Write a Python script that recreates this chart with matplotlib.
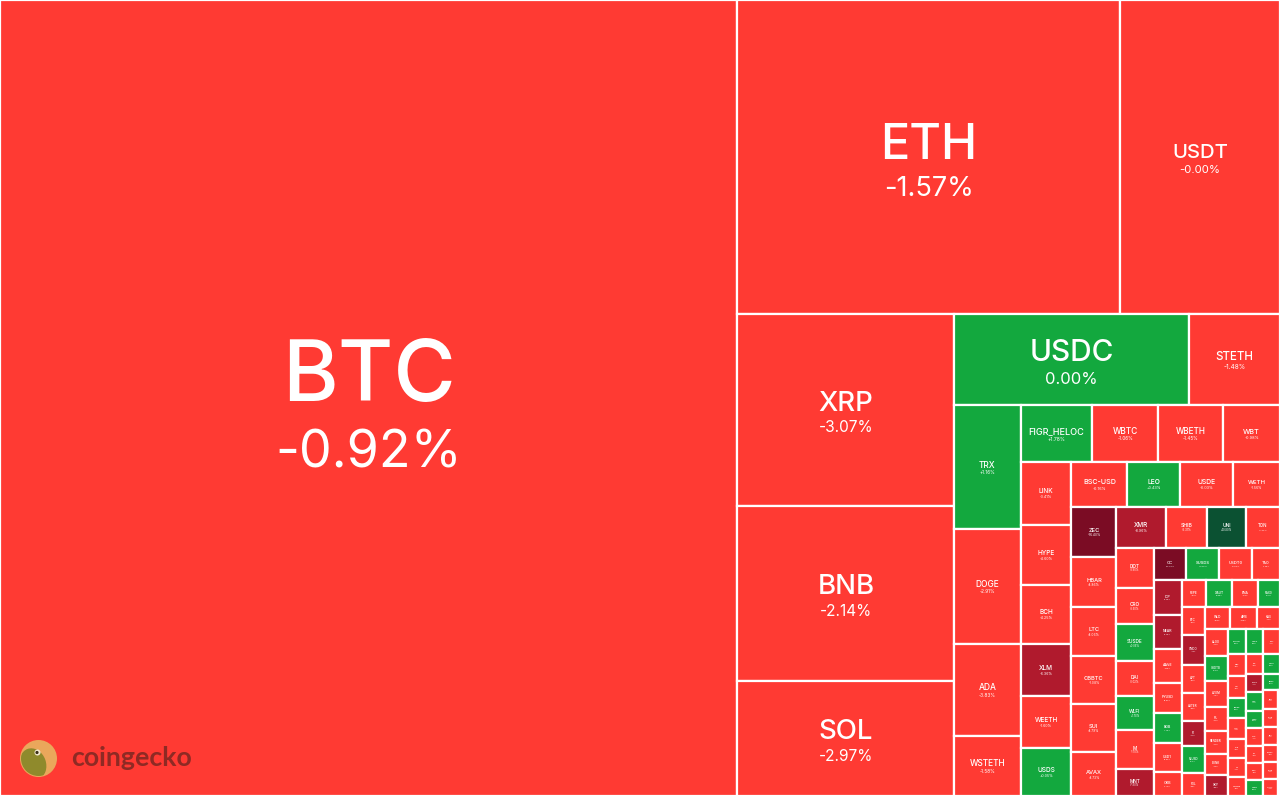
import matplotlib
matplotlib.use('Agg')
import matplotlib.pyplot as plt
from matplotlib.patches import Rectangle, Circle, Ellipse

# 数据：市值（相对大小）与24小时涨跌幅
symbols = [
    'BTC', 'ETH', 'USDT', 'XRP', 'BNB', 'SOL', 'USDC', 'STETH',
    'TRX', 'DOGE', 'ADA', 'WSTETH',
    'FIGR_HELOC', 'WBTC', 'WBETH', 'WBT',
    'LINK', 'HYPE', 'BCH', 'XLM', 'WEETH', 'USDS',
    'BSC-USD', 'LEO', 'USDE', 'WETH',
    'ZEC', 'HBAR', 'LTC', 'CBBTC', 'SUI', 'AVAX',
    'XMR', 'SHIB', 'UNI', 'TON',
    'DOT', 'CRO', 'SUSDE', 'DAI', 'WLFI', 'M', 'MNT',
    'CC', 'SUSDS', 'USDT0', 'TAO',
    'ICP', 'NEAR', 'AAVE', 'PYUSD', 'BGB', 'USD1', 'OKB',
    'PEPE', 'XAUT', 'ENA', 'PAXG',
    'ETC', 'ONDO', 'APT', 'ASTER', 'PI', 'RLUSD', 'POL',
    'WLD', 'ARB', 'KAS',
    'ALGO', 'USDTB', 'ATOM', 'FIL', 'RENDER', 'BONK', 'SKY',
    'FDUSD', 'USDG', 'QNT', 'VET', 'SEI', 'BUIDL', 'JUP', 'FLR', 'IP',
    'TRUMP', 'INJ', 'USYC', 'CAKE', 'XDC', 'USDF', 'STX', 'OP', 'CRV',
    'USD0', 'EURC', 'LDO', 'NEXO', 'ENS', 'PENGU', 'SAND', 'THETA', 'AERO',
]
market_cap = [
    586652, 120262, 50240, 41664, 37975, 24955, 21385, 8281,
    8184, 7590, 6072, 3960,
    4032, 3696, 3640, 3192,
    3213, 3060, 3009, 2652, 2652, 2448,
    2520, 2385, 2385, 2115,
    2250, 2250, 2205, 2160, 2160, 1980,
    2050, 1681, 1599, 1394,
    1480, 1370, 1370, 1300, 1260, 1450, 1000,
    1056, 1056, 1056, 896,
    980, 952, 952, 840, 840, 812, 672,
    675, 702, 702, 594,
    644, 690, 644, 644, 575, 621, 529,
    572, 594, 506,
    621, 575, 575, 552, 529, 483, 483,
    456, 444, 420, 405, 392, 380, 370, 360, 352,
    344, 336, 328, 320, 313, 306, 300, 294, 288,
    282, 276, 270, 265, 260, 255, 250, 245, 240,
]
change_24h = [
    -0.92, -1.57, -0.001, -3.07, -2.14, -2.97, 0.001, -1.48,
    1.16, -2.91, -3.83, -1.58,
    1.78, -1.06, -1.45, -0.98,
    -3.41, -4.60, -4.25, -6.36, -1.60, 0.05,
    -0.16, 0.43, -0.03, -1.56,
    -16.40, -4.86, -4.06, -1.08, -4.79, -4.73,
    -8.96, -3.31, 10.80, -3.42,
    -3.90, -3.50, 0.06, -0.02, 1.78, -1.10, -7.80,
    -12.40, 0.08, -0.03, -3.90,
    -9.50, -8.20, -4.40, -0.02, 1.20, -0.04, -3.10,
    -4.90, 0.60, -4.20, 0.50,
    -3.60, -7.10, -3.90, -4.40, -6.50, 0.01, -4.10,
    -4.80, -4.40, -3.20,
    -4.50, 0.02, -3.70, -4.60, -4.90, -4.00, -7.40,
    0.02, 0.01, -2.70, -4.00, -4.80, 0.01, -3.30, -3.90, -4.20,
    -4.50, -3.80, 0.01, -7.20, 1.30, 0.02, -4.10, -3.60, -4.40,
    0.03, 0.10, -4.70, -3.20, -4.10, -4.60, -3.70, -4.20, -3.40,
]

W, H = 1280, 796


def tile_color(c):
    if c >= 5:
        return '#0b5132'
    if c >= 0:
        return '#13a83e'
    if c > -5.5:
        return '#ff3a33'
    if c > -10:
        return '#b01a2d'
    return '#7b0c24'


class RowGroup:
    # 交替方向的 squarified 布局（每行之后换方向）
    def __init__(self, h, w):
        self.height, self.width = h, w
        self.direction = 0
        self.total = 0.0
        self.nW = self.lW = self.nH = self.lH = 0.0
        self.items = []
        self.lR = self.nR = None

    def add(self, a):
        prev = self.items[-1] if self.items else None
        self.total += a
        ratio = lambda p, q: max(p / q, q / p)
        if self.direction == 0:
            self.lW = self.nW
            self.nW = self.total / self.height
            if prev is not None:
                self.lR = ratio(self.lW, prev / self.lW)
                self.nR = ratio(self.nW, prev / self.nW)
        else:
            self.lH = self.nH
            self.nH = self.total / self.width
            if prev is not None:
                self.lR = ratio(prev / self.lH, self.lH)
                self.nR = ratio(prev / self.nH, self.nH)
        if prev is None:
            self.lR = self.nR = None
        self.items.append(a)


def treemap(values, x0, y0, w, h):
    total = sum(values)
    g = RowGroup(h, w)
    pos = [x0, y0]
    rects = []

    def flush(last):
        if last:
            gw, gh, keep = g.nW, g.nH, None
            todo = g.items
        else:
            gw, gh, keep = g.lW, g.lH, g.items[-1]
            todo = g.items[:-1]
        for a in todo:
            if g.direction == 0:
                rects.append((pos[0], pos[1], gw, a / gw))
                pos[1] += a / gw
            else:
                rects.append((pos[0], pos[1], a / gh, gh))
                pos[0] += a / gh
        g.items = []
        g.total = 0.0
        g.nW = g.lW = 0.0
        if g.direction == 0:
            g.width -= gw
        else:
            g.height -= gh
        pos[0] = x0 + (w - g.width)
        pos[1] = y0 + (h - g.height)
        g.direction = 1 - g.direction
        if keep is not None:
            g.add(keep)

    for i, v in enumerate(values):
        g.add(w * h * v / total)
        if g.lR is not None and g.nR > g.lR:
            flush(False)
        if i == len(values) - 1:
            flush(True)
    return rects


rects = treemap(market_cap, 0, 0, W, H)

fig = plt.figure(figsize=(12.8, 7.96), dpi=100)
ax = fig.add_axes([0, 0, 1, 1])
ax.set_xlim(0, W)
ax.set_ylim(H, 0)
ax.axis('off')

PX = 0.72  # 像素 -> 磅
for (x, y, w, h), name, chg in zip(rects, symbols, change_24h):
    ax.add_patch(Rectangle((x, y), w, h, facecolor=tile_color(chg),
                           edgecolor='white', linewidth=1.6))
    base = min(0.127 * w, 0.42 * h, 0.92 * w / (0.62 * len(name)))
    fs = min(base, 85)
    pfs = min(0.56 * base, 52)
    cx, cy = x + w / 2, y + h / 2
    sign = '+' if chg >= 0.005 else ''
    ax.text(cx, cy + 0.03 * fs, name, ha='center', va='baseline',
            fontsize=fs * PX, color='white', family='Inter',
            fontweight='medium', clip_on=True)
    ax.text(cx, cy + 0.6 * fs + 0.36 * pfs, f'{sign}{chg:.2f}%', ha='center',
            va='baseline', fontsize=pfs * PX, color='white', family='Inter',
            clip_on=True)

# coingecko 标志
ax.add_patch(Circle((38.5, 758.5), 18.5, facecolor='#eaa75b', edgecolor='none', zorder=5))
head = Ellipse((33, 764), 26, 32, angle=-20, facecolor='#8f8a2c', edgecolor='none', zorder=6)
ax.add_patch(head)
head.set_clip_path(Circle((38.5, 758.5), 17.5, transform=ax.transData))
ax.add_patch(Circle((37.5, 752.5), 3.0, facecolor='#f4ead0', edgecolor='none', zorder=7))
ax.add_patch(Circle((37.0, 752.5), 1.6, facecolor='#3a3018', edgecolor='none', zorder=8))
ax.text(71, 766.5, 'coingecko', ha='left', va='baseline', fontsize=19.3,
        fontweight='bold', color='#8e2a24', family='Lato', zorder=9)

fig.savefig('out.png', dpi=100, facecolor='white')
